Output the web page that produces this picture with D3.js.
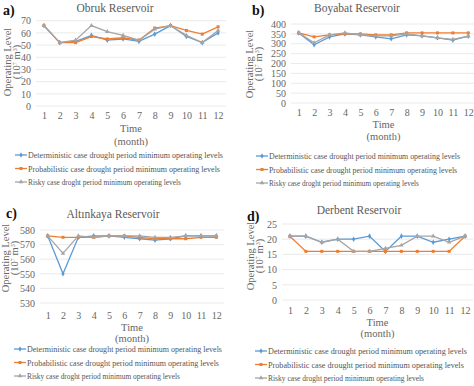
<!DOCTYPE html>
<html>
<head>
<meta charset="utf-8">
<script src="https://cdn.jsdelivr.net/npm/d3@7"></script>
<style>
  body { margin: 0; background: #fff; }
  svg text { font-family: "Liberation Serif", "Times New Roman", Times, "DejaVu Serif", serif; }
</style>
</head>
<body>
<div id="chart"></div>
<script>
const months = [1, 2, 3, 4, 5, 6, 7, 8, 9, 10, 11, 12];
const seriesNames = [
  "Deterministic case drought period minimum operating levels",
  "Probabilistic case drought period minimum operating levels",
  "Risky case droght period minimum operating levels"
];

// Obruk
const obrukDet = [66, 52, 53, 58, 54, 55, 53, 59, 66, 57, 52, 60];
const obrukProb = [66, 52, 52, 57, 55, 56, 54, 64, 66, 62, 59, 65];
const obrukRisky = [66, 52, 54, 66, 61, 58, 54, 63, 66, 58, 52, 62];
const obrukTicks = [0, 10, 20, 30, 40, 50, 60, 70];

// Boyabat
const boyabatDet = [355, 295, 335, 350, 345, 335, 325, 345, 340, 330, 318, 338];
const boyabatProb = [355, 335, 345, 350, 350, 345, 345, 355, 355, 355, 355, 355];
const boyabatRisky = [355, 305, 345, 355, 345, 340, 340, 350, 340, 330, 322, 338];
const boyabatTicks = [0, 50, 100, 150, 200, 250, 300, 350, 400];

// Altinkaya
const altinkayaDet = [576, 550, 575, 576, 576, 575, 574, 573, 574, 576, 576, 576];
const altinkayaProb = [576, 575, 575, 575, 576, 576, 575, 574, 574, 574, 575, 575];
const altinkayaRisky = [576, 564, 576, 575, 576, 576, 576, 575, 575, 576, 576, 576];
const altinkayaTicks = [530, 540, 550, 560, 570, 580];

// Derbent
const derbentDet = [21, 21, 19, 20, 20, 21, 16, 21, 21, 19, 20, 21];
const derbentProb = [21, 16, 16, 16, 16, 16, 16, 16, 16, 16, 16, 21];
const derbentRisky = [21, 21, 19, 20, 16, 16, 17, 18, 21, 21, 19, 21];
const derbentTicks = [0, 5, 10, 15, 20, 25];

const colors = ["#5b9bd5", "#ed7d31", "#a5a5a5"];
const symbols = [d3.symbolDiamond, d3.symbolSquare, d3.symbolTriangle];
const legendWidths = [195, 192, 153];

const svg = d3.select("#chart").append("svg").attr("width", 474).attr("height", 386);

// layout of each panel
const panels = [
  { tag: "a)", title: "Obruk Reservoir", series: [obrukDet, obrukProb, obrukRisky], ticks: obrukTicks,
    tagX: 3, tagY: 15, titleX: 115, titleY: 12, x0: 36, x1: 226, yTop: 20.7, yBot: 106,
    axisX: 11, axisY: 62, monthY: 120, timeY: 132, monY: 145, legX: 15, legY: 155, legW: 1 },
  { tag: "b)", title: "Boyabat Reservoir", series: [boyabatDet, boyabatProb, boyabatRisky], ticks: boyabatTicks,
    tagX: 252, tagY: 15, titleX: 357, titleY: 12, x0: 291, x1: 476, yTop: 24, yBot: 103,
    axisX: 253, axisY: 64, monthY: 117, timeY: 128, monY: 140, legX: 256, legY: 156, legW: 0.98 },
  { tag: "c)", title: "Altınkaya Reservoir", series: [altinkayaDet, altinkayaProb, altinkayaRisky], ticks: altinkayaTicks,
    tagX: 6, tagY: 218, titleX: 113, titleY: 218, x0: 40, x1: 224, yTop: 230, yBot: 303,
    axisX: 9, axisY: 258, monthY: 320, timeY: 331, monY: 342, legX: 14, legY: 349, legW: 1 },
  { tag: "d)", title: "Derbent Reservoir", series: [derbentDet, derbentProb, derbentRisky], ticks: derbentTicks,
    tagX: 247, tagY: 221, titleX: 359, titleY: 214, x0: 282, x1: 473, yTop: 224, yBot: 300,
    axisX: 254, axisY: 256, monthY: 315, timeY: 326, monY: 337, legX: 255, legY: 351, legW: 1.02 }
];

panels.forEach(p => {
  const g = svg.append("g");
  const x = d3.scalePoint().domain(months).range([p.x0, p.x1]).padding(0.5);
  const y = d3.scaleLinear().domain(d3.extent(p.ticks)).range([p.yBot, p.yTop]);

  // gridlines
  g.selectAll(".grid").data(p.ticks).join("line")
    .attr("x1", p.x0).attr("x2", p.x1)
    .attr("y1", d => y(d)).attr("y2", d => y(d))
    .attr("stroke", "#e4e4e4").attr("stroke-width", 0.8);

  // y axis labels
  const yAxis = d3.axisLeft(y).tickValues(p.ticks).tickSize(0).tickPadding(5);
  const ya = g.append("g").attr("transform", `translate(${p.x0},0)`).call(yAxis);
  ya.attr("font-family", null);
  ya.select(".domain").remove();
  ya.selectAll("text").attr("font-size", 10).attr("fill", "#666");

  // month labels
  const xAxis = d3.axisBottom(x).tickSize(0).tickPadding(0);
  const xa = g.append("g").attr("transform", `translate(0,${p.monthY - 8})`).call(xAxis);
  xa.attr("font-family", null);
  xa.select(".domain").remove();
  xa.selectAll("text").attr("font-size", 10).attr("fill", "#666");

  // axis titles
  const midX = (p.x0 + p.x1) / 2;
  g.append("text").attr("x", midX).attr("y", p.timeY).attr("text-anchor", "middle")
    .attr("font-size", 10.5).attr("fill", "#666").text("Time");
  g.append("text").attr("x", midX).attr("y", p.monY).attr("text-anchor", "middle")
    .attr("font-size", 10.5).attr("fill", "#666").text("(month)");

  const yt = g.append("text").attr("transform", `translate(${p.axisX},${p.axisY}) rotate(-90)`)
    .attr("text-anchor", "middle").attr("font-size", 10.5).attr("fill", "#666");
  yt.append("tspan").attr("x", 0).attr("dy", 0).text("Operating Level");
  const t2 = yt.append("tspan").attr("x", 0).attr("dy", 9);
  t2.append("tspan").text("(10");
  t2.append("tspan").attr("font-size", 6).attr("dy", -3).text("7");
  t2.append("tspan").attr("dy", 3).text(" m");
  t2.append("tspan").attr("font-size", 6).attr("dy", -3).text("3");
  t2.append("tspan").attr("dy", 3).text(")");

  // titles
  g.append("text").attr("x", p.titleX).attr("y", p.titleY).attr("text-anchor", "middle")
    .attr("font-size", 11.5).attr("fill", "#5a5a5a").text(p.title);
  g.append("text").attr("x", p.tagX).attr("y", p.tagY)
    .attr("font-size", 14).attr("font-weight", "bold").attr("fill", "#111").text(p.tag);

  // series
  const line = d3.line().x((d, i) => x(months[i])).y(d => y(d));
  p.series.forEach((vals, si) => {
    g.append("path").datum(vals).attr("d", line)
      .attr("fill", "none").attr("stroke", colors[si]).attr("stroke-width", 1.3);
    g.selectAll(null).data(vals).join("path")
      .attr("d", d3.symbol().type(symbols[si]).size(9))
      .attr("transform", (d, i) => `translate(${x(months[i])},${y(d)})`)
      .attr("fill", colors[si]);
  });

  // legend
  seriesNames.forEach((name, si) => {
    const ly = p.legY + si * 13.5;
    g.append("line").attr("x1", p.legX).attr("x2", p.legX + 12)
      .attr("y1", ly).attr("y2", ly).attr("stroke", colors[si]).attr("stroke-width", 1.3);
    g.append("path").attr("d", d3.symbol().type(symbols[si]).size(9))
      .attr("transform", `translate(${p.legX + 6},${ly})`).attr("fill", colors[si]);
    g.append("text").attr("x", p.legX + 13).attr("y", ly + 3)
      .attr("font-size", 8.2).attr("fill", "#555")
      .attr("textLength", legendWidths[si] * p.legW).attr("lengthAdjust", "spacingAndGlyphs")
      .text(name);
  });
});
</script>
</body>
</html>
